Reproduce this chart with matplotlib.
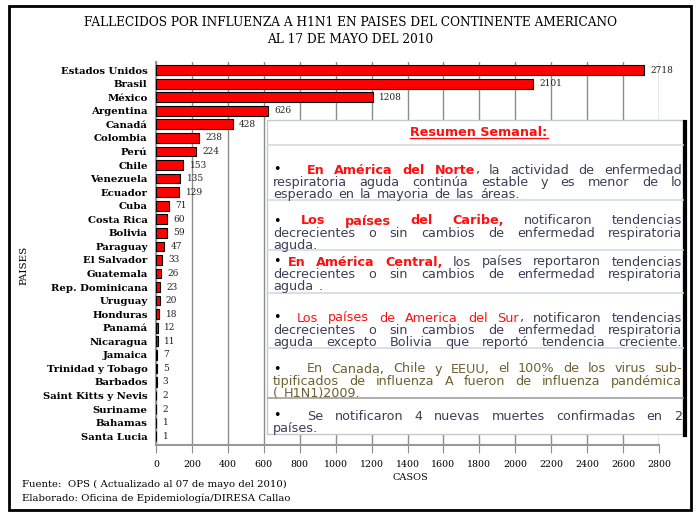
import matplotlib
matplotlib.use("Agg")
import matplotlib.pyplot as plt
from matplotlib.patches import Rectangle
from matplotlib.lines import Line2D

# datos
paises = ["Estados Unidos", "Brasil", "México", "Argentina", "Canadá", "Colombia",
          "Perú", "Chile", "Venezuela", "Ecuador", "Cuba", "Costa Rica", "Bolivia",
          "Paraguay", "El Salvador", "Guatemala", "Rep. Dominicana", "Uruguay",
          "Honduras", "Panamá", "Nicaragua", "Jamaica", "Trinidad y Tobago",
          "Barbados", "Saint Kitts y Nevis", "Suriname", "Bahamas", "Santa Lucia"]
fallecidos = [2718, 2101, 1208, 626, 428, 238, 224, 153, 135, 129, 71, 60, 59,
              47, 33, 26, 23, 20, 18, 12, 11, 7, 5, 3, 2, 2, 1, 1]
xticks = list(range(0, 2801, 200))

titulo = "FALLECIDOS POR INFLUENZA A H1N1 EN PAISES DEL CONTINENTE AMERICANO\nAL 17 DE MAYO DEL 2010"
xlabel = "CASOS"
ylabel = "PAISES"
fuente = "Fuente:  OPS ( Actualizado al 07 de mayo del 2010)"
elaborado = "Elaborado: Oficina de Epidemiología/DIRESA Callao"

RED = "#ff1010"
GRAY = "#3d3d56"
OLIVE = "#6e6030"
B = ("•", "black", "normal")

# resumen semanal: (y de la primera linea, sangria tras la viñeta, lineas)
resumen = [
    (170, 34, [[B, ("En América del Norte", RED, "bold"), (", la actividad de enfermedad", GRAY, "normal")],
               [("respiratoria aguda continúa estable y es menor de lo", GRAY, "normal")],
               [("esperado en la mayoria de las áreas.", GRAY, "normal")]]),
    (221, 28, [[B, ("Los países del Caribe,", RED, "bold"), (" notificaron tendencias", GRAY, "normal")],
               [("decrecientes o sin cambios de enfermedad respiratoria", GRAY, "normal")],
               [("aguda.", GRAY, "normal")]]),
    (262, 15, [[B, ("En América Central,", RED, "bold"), (" los países reportaron tendencias", GRAY, "normal")],
               [("decrecientes o sin cambios de enfermedad respiratoria", GRAY, "normal")],
               [("aguda .", GRAY, "normal")]]),
    (318, 24, [[B, ("Los países de America del Sur", RED, "normal"), (", notificaron tendencias", GRAY, "normal")],
               [("decrecientes o sin cambios de enfermedad respiratoria", GRAY, "normal")],
               [("aguda excepto Bolivia que reportó tendencia creciente.", GRAY, "normal")]]),
    (369, 34, [[B, ("En Canada, Chile y EEUU, el 100% de los virus sub-", OLIVE, "normal")],
               [("tipificados de influenza A fueron de influenza pandémica", OLIVE, "normal")],
               [("( H1N1)2009.", OLIVE, "normal")]]),
    (416, 34, [[B, ("Se notificaron 4 nuevas muertes confirmadas en 2", GRAY, "normal")],
               [("países.", GRAY, "normal")]]),
]
separadores = [145, 200, 250, 293, 348, 398]

fig = plt.figure(figsize=(7, 5.12), dpi=100)
fig.patches.append(Rectangle((9 / 700, 1 - 510 / 512), 682 / 700, 504 / 512,
                             transform=fig.transFigure, fill=False,
                             edgecolor="black", linewidth=2))

serif = "DejaVu Serif"
ax = fig.add_axes([156 / 700, 1 - 445 / 512, 503 / 700, 383 / 512])
pos = list(range(len(paises)))
ax.barh(pos, fallecidos, height=0.72, color="#ff0000", edgecolor="black",
        linewidth=0.8, zorder=3)
for p, v in zip(pos, fallecidos):
    ax.text(v + 35, p, str(v), va="center", ha="left", fontsize=6.5,
            family=serif, color="#222222")
ax.set_ylim(len(paises) - 0.35, -0.6)
ax.set_xlim(0, 2800)
ax.set_yticks(pos)
ax.set_yticklabels(paises, fontsize=7.3, fontweight="bold", family=serif)
ax.set_xticks(xticks)
ax.set_xticklabels([str(t) for t in xticks], fontsize=6.8, family=serif)
ax.tick_params(axis="y", length=0, pad=6)
ax.tick_params(axis="x", length=6, color="#8c8c8c", pad=5, direction="out")
ax.grid(axis="x", color="#8c8c8c", linewidth=1, zorder=0)
for s in ["top", "right"]:
    ax.spines[s].set_visible(False)
for s in ["left", "bottom"]:
    ax.spines[s].set_color("#999999")
    ax.spines[s].set_linewidth(1.5)

fig.text(0.5, 1 - 31 / 512, titulo, ha="center", va="center", fontsize=8.7,
         family=serif, linespacing=1.45)
fig.text(410 / 700, 1 - 478 / 512, xlabel, ha="center", va="center",
         fontsize=7, family=serif)
fig.text(24 / 700, 1 - 265 / 512, ylabel, ha="center", va="center",
         fontsize=7.5, family=serif, rotation=90)
fig.text(22 / 700, 1 - 484 / 512, fuente, ha="left", va="center",
         fontsize=7.3, family=serif)
fig.text(22 / 700, 1 - 498 / 512, elaborado, ha="left", va="center",
         fontsize=7.3, family=serif)

# cuadro de resumen, en coordenadas de pixel
bx = fig.add_axes([267 / 700, 1 - 435 / 512, 420 / 700, 315 / 512])
bx.set_xlim(267, 687)
bx.set_ylim(435, 120)
bx.axis("off")
bx.add_patch(Rectangle((267, 120), 416, 314, facecolor="white",
                       edgecolor="#c4c8d4", linewidth=1, clip_on=False))
bx.add_line(Line2D([684.5, 684.5], [122, 435], color="black", linewidth=3,
                   clip_on=False))
for ys in separadores:
    c = "#a0a0a0" if ys == 398 else "#d4d9e6"
    bx.add_line(Line2D([268, 683], [ys, ys], color=c, linewidth=1.2))

fs = 9.2
tt = bx.text(479, 132, "Resumen Semanal:", ha="center", va="center",
             fontsize=fs, fontweight="bold", color=RED, family="DejaVu Sans")
renderer = fig.canvas.get_renderer()
bb = tt.get_window_extent(renderer)
bx.add_line(Line2D([479 - bb.width / 2, 479 + bb.width / 2], [138, 138],
                   color=RED, linewidth=0.9))

L, R = 273, 682
lh = 12.3
for y0, indent, lineas in resumen:
    for i, linea in enumerate(lineas):
        y = y0 + i * lh
        x = L
        if linea[0] == B:
            bx.text(L, y, "•", ha="left", va="center", fontsize=fs,
                    color="black", family="DejaVu Sans")
            linea = linea[1:]
            x = L + indent
        tokens = []
        prev_space = True
        for text, color, weight in linea:
            parts = text.split(" ")
            for k, p in enumerate(parts):
                if p == "":
                    continue
                if k == 0 and tokens and not prev_space:
                    tokens[-1].append((p, color, weight))
                else:
                    tokens.append([(p, color, weight)])
            prev_space = text.endswith(" ")
        # medir palabras
        objs = []
        widths = []
        for tok in tokens:
            parts = []
            w = 0
            for p, color, weight in tok:
                t = bx.text(0, y, p, ha="left", va="center", fontsize=fs,
                            color=color, fontweight=weight, family="DejaVu Sans")
                pw = t.get_window_extent(renderer).width
                parts.append((t, pw))
                w += pw
            objs.append(parts)
            widths.append(w)
        natural = 5.5
        llena = sum(widths) + natural * (len(tokens) - 1) > 0.85 * (R - x)
        if (i == len(lineas) - 1 and not llena) or len(tokens) < 2:
            gap = natural
        else:
            gap = (R - x - sum(widths)) / (len(tokens) - 1)
        for parts, w in zip(objs, widths):
            xx = x
            for t, pw in parts:
                t.set_x(xx)
                xx += pw
            x += w + gap

fig.savefig("out.png", dpi=100)
